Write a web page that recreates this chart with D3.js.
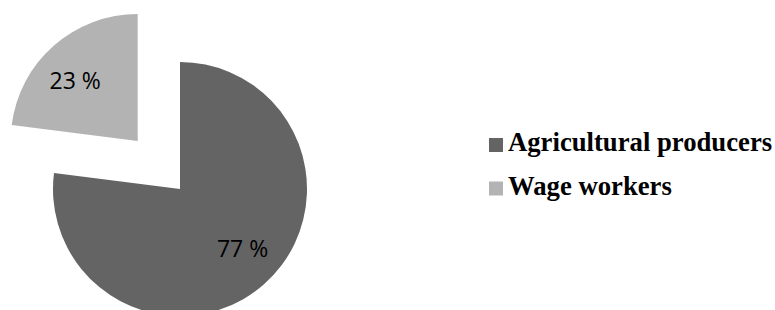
<!DOCTYPE html>
<html>
<head>
<meta charset="utf-8">
<script src="https://cdn.jsdelivr.net/npm/d3@7"></script>
<style>
    body { margin: 0; background: #fff; }
    svg { display: block; }
</style>
</head>
<body>
<script>
const categories = ['Agricultural producers', 'Wage workers'];
const shares = [77, 23];
const colors = ['#646464', '#b3b3b3'];

const width = 775;
const height = 310;

const center = { x: 180, y: 189 };
const radius = 127;
const explode = 64;

const svg = d3.select('body')
    .append('svg')
    .attr('width', width)
    .attr('height', height);

const data = categories.map((name, i) => ({ name, value: shares[i], color: colors[i] }));

const pie = d3.pie()
    .sort(null)
    .value(d => d.value);

const arc = d3.arc()
    .innerRadius(0)
    .outerRadius(radius);

const slices = pie(data);

// only the small slice is pulled out
const offset = (d, i) => {
    if (i === 0) return [0, 0];
    const mid = (d.startAngle + d.endAngle) / 2;
    return [Math.sin(mid) * explode, -Math.cos(mid) * explode];
};

const g = svg.append('g')
    .attr('transform', `translate(${center.x},${center.y})`);

const slice = g.selectAll('g.slice')
    .data(slices)
    .join('g')
    .attr('class', 'slice')
    .attr('transform', (d, i) => `translate(${offset(d, i)})`);

slice.append('path')
    .attr('d', arc)
    .attr('fill', d => d.data.color);

const labelRadius = radius * 0.68;
const labelShift = -5 * Math.PI / 180;

slice.append('text')
    .attr('x', d => Math.sin((d.startAngle + d.endAngle) / 2 + labelShift) * labelRadius)
    .attr('y', d => -Math.cos((d.startAngle + d.endAngle) / 2 + labelShift) * labelRadius)
    .attr('dy', '0.35em')
    .attr('text-anchor', 'middle')
    .style('font-family', '"Open Sans", Lato, sans-serif')
    .style('font-size', '23px')
    .attr('fill', '#000')
    .text(d => `${d.data.value} %`);

const legend = svg.append('g')
    .attr('transform', 'translate(489,138)');

const item = legend.selectAll('g')
    .data(data)
    .join('g')
    .attr('transform', (d, i) => `translate(0,${i * 43.5})`);

item.append('rect')
    .attr('width', 14)
    .attr('height', 14)
    .attr('fill', d => d.color);

item.append('text')
    .attr('x', 19)
    .attr('y', 13)
    .style('font-family', '"Liberation Serif", "DejaVu Serif", serif')
    .style('font-weight', 'bold')
    .style('font-size', '26.7px')
    .attr('fill', '#000')
    .text(d => d.name);
</script>
</body>
</html>
